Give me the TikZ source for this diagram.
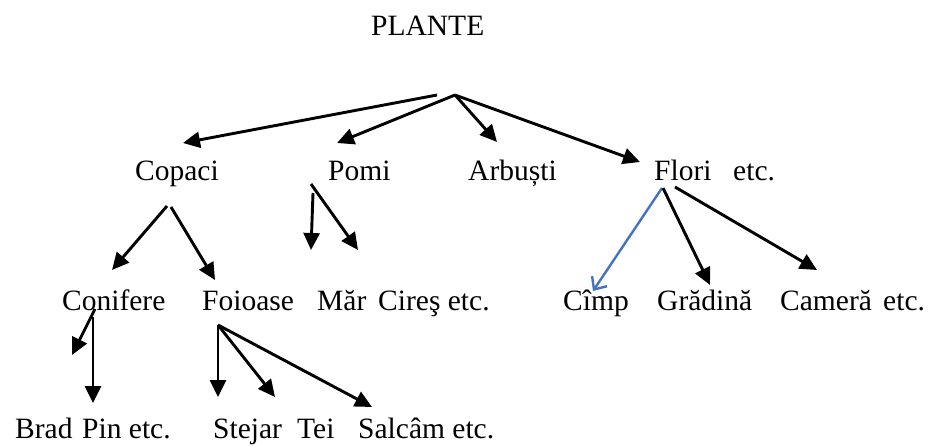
\documentclass[tikz,border=0pt]{standalone}
\usepackage{fontspec}
\setmainfont{Liberation Serif}
\usetikzlibrary{arrows.meta}
\definecolor{wordblue}{RGB}{68,114,196}
\tikzset{
  lbl/.style={inner sep=0pt, anchor=base west, font=\fontsize{29.5}{34}\selectfont},
  arr/.style={line width=2.9pt, -{Triangle[length=17pt,width=16pt]}},
  barr/.style={line width=2.4pt, draw=wordblue, -{Straight Barb[length=10pt,width=18pt,line width=2.4pt]}}
}
\begin{document}
\begin{tikzpicture}[x=1pt,y=-1pt]
\useasboundingbox (0,0) rectangle (929,446);
% texts
\node[lbl] (plante) at (371,36) {PLANTE};
\node[lbl] (copaci) at (135,181) {Copaci};
\node[lbl] (pomi) at (328,181) {Pomi};
\node[lbl] (arbusti) at (468,181) {Arbuști};
\node[lbl] (flori) at (654,181) {Flori};
\node[lbl] (etc1) at (733,181) {etc.};
\node[lbl] (conifere) at (62,311) {Conifere};
\node[lbl] (foioase) at (202,311) {Foioase};
\node[lbl] (mar) at (317,311) {Măr};
\node[lbl] (cires) at (378,311) {Cireş etc.};
\node[lbl] (cimp) at (563,311) {Cîmp};
\node[lbl] (gradina) at (657,311) {Grădină};
\node[lbl] (camera) at (780,311) {Cameră};
\node[lbl] (etc2) at (883,311) {etc.};
\node[lbl] (brad) at (15,438) {Brad};
\node[lbl] (pin) at (82,438) {Pin etc.};
\node[lbl] (stejar) at (213,438) {Stejar};
\node[lbl] (tei) at (297,438) {Tei};
\node[lbl] (salcam) at (358,438) {Salcâm etc.};
% connector points
\coordinate (r0) at (437,95);
\coordinate (r1) at (455,95);
\coordinate (tCop) at (183,143);
\coordinate (tPom) at (337,143);
\coordinate (tArb) at (497,142);
\coordinate (tFlo) at (640,162);
\coordinate (c0) at (167,206);
\coordinate (c1) at (171,207);
\coordinate (tCon) at (112,270);
\coordinate (tFoi) at (215,280);
\coordinate (p0) at (313,193);
\coordinate (p1) at (311,184);
\coordinate (tMar) at (311,250);
\coordinate (tCir) at (358,250);
\coordinate (f0) at (662,188);
\coordinate (f1) at (663,188);
\coordinate (f2) at (675,187);
\coordinate (tCim) at (593,291);
\coordinate (tGra) at (710,285);
\coordinate (tCam) at (817,270);
\coordinate (k0) at (95,309);
\coordinate (k1) at (93,317);
\coordinate (tBra) at (72,355);
\coordinate (tPin) at (93,403);
\coordinate (o0) at (218,325);
\coordinate (tSte) at (218,397);
\coordinate (tTei) at (275,397);
\coordinate (tSal) at (372,407);
% connectors
\draw[arr] (r0) -- (tCop);
\draw[arr] (r1) -- (tPom);
\draw[arr] (r1) -- (tArb);
\draw[arr] (r1) -- (tFlo);
\draw[arr] (c0) -- (tCon);
\draw[arr] (c1) -- (tFoi);
\draw[arr] (p0) -- (tMar);
\draw[arr] (p1) -- (tCir);
\draw[barr] (f0) -- (tCim);
\draw[arr] (f1) -- (tGra);
\draw[arr] (f2) -- (tCam);
\draw[arr] (k0) -- (tBra);
\draw[arr] (k1) -- (tPin);
\draw[arr] (o0) -- (tSte);
\draw[arr] (o0) -- (tTei);
\draw[arr] (o0) -- (tSal);
\end{tikzpicture}
\end{document}
